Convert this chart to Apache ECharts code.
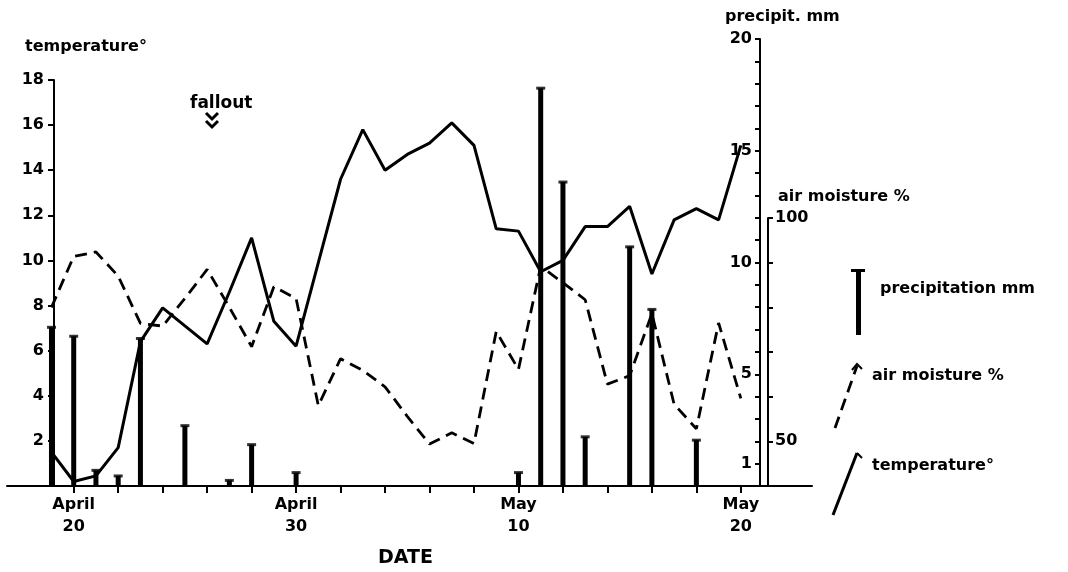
<!DOCTYPE html>
<html>
<head>
<meta charset="utf-8">
<script src="https://cdn.jsdelivr.net/npm/echarts@6/dist/echarts.min.js"></script>
<style>
    html, body { margin: 0; padding: 0; background: #fff; }
    #chart { width: 1068px; height: 572px; }
</style>
</head>
<body>
<div id="chart"></div>
<script>
    // days counted from 1 April (1 May = 31, 20 May = 50)
    var tempDays = [19, 20, 21, 22, 23, 24, 25, 26, 27, 28, 29, 30, 31, 32, 33, 34,
        35, 36, 37, 38, 39, 40, 41, 42, 43, 44, 45, 46, 47, 48, 49, 50];
    // temperature in degrees
    var temperature = [1.5, 0.2, 0.45, 1.7, 6.4, 7.9, 7.1, 6.3, 8.6, 11.0, 7.3, 6.2, 9.9, 13.6, 15.8, 14.0,
        14.7, 15.2, 16.1, 15.1, 11.4, 11.3, 9.5, 10.0, 11.5, 11.5, 12.4, 9.4, 11.8, 12.3, 11.8, 15.1];
    // air moisture in %
    var moisture = [80, 91.4, 92.4, 87, 76.4, 75.8, 82, 88.5, 80, 71.2, 84.6, 82, 58, 68.5, 65.9, 62.2,
        55.6, 49.4, 51.9, 49.5, 74.6, 66.1, 89.2, 85.5, 81.7, 62.8, 64.7, 78.6, 58.3, 52.8, 76.5, 59.6];
    // precipitation in mm
    var precipDays = [19, 20, 21, 22, 23, 25, 27, 28, 30, 40, 41, 42, 43, 45, 46, 48];
    var precipitation = [7.1, 6.7, 0.7, 0.45, 6.6, 2.7, 0.25, 1.85, 0.6, 0.6, 17.8, 13.6, 2.2, 10.7, 7.9, 2.05];

    // tick labels
    var xTickDays = [20, 22, 24, 26, 28, 30, 32, 34, 36, 38, 40, 42, 44, 46, 48, 50];
    var xLabelDays = [20, 30, 40, 50];
    var xLabelText = ['April\n20', 'April\n30', 'May\n10', 'May\n20'];
    var precipLabels = [1, 5, 10, 15, 20];
    var moistureLabels = [50, 100];

    var font = 'DejaVu Sans';
    var black = '#000';

    function dayAxis(gridIndex, visible) {
        return {
            type: 'value',
            gridIndex: gridIndex,
            show: visible,
            min: 17,
            max: 53.2,
            axisLine: { show: true, onZero: false, lineStyle: { color: black, width: 2 } },
            axisTick: { show: true, length: 7, customValues: xTickDays, lineStyle: { color: black, width: 2 } },
            axisLabel: {
                customValues: xLabelDays,
                formatter: function (v) { return xLabelText[xLabelDays.indexOf(v)]; },
                color: black, fontFamily: font, fontWeight: 'bold', fontSize: 16, lineHeight: 22, margin: 8
            },
            splitLine: { show: false }
        };
    }

    function label(text, x, y, size) {
        return {
            type: 'text', left: x, top: y - size * 0.6,
            style: { text: text, fill: black, font: 'bold ' + size + 'px "' + font + '"' }
        };
    }

    var chart = echarts.init(document.getElementById('chart'));
    chart.setOption({
        animation: false,
        backgroundColor: '#fff',
        grid: [
            { left: 7, right: 256, top: 80, bottom: 86 },   // temperature
            { left: 7, right: 256, top: 39, bottom: 86 },   // precipitation
            { left: 7, right: 256, top: 218, bottom: 86 }   // air moisture
        ],
        xAxis: [dayAxis(0, true), dayAxis(1, false), dayAxis(2, false)],
        yAxis: [
            {
                type: 'value', gridIndex: 0, position: 'left', offset: -47,
                min: 0, max: 18, interval: 2,
                axisLine: { show: true, lineStyle: { color: black, width: 2 } },
                axisTick: { show: true, length: 6, lineStyle: { color: black, width: 2 } },
                axisLabel: { showMinLabel: false, color: black, fontFamily: font, fontWeight: 'bold', fontSize: 16, margin: 10 },
                splitLine: { show: false }
            },
            {
                type: 'value', gridIndex: 1, position: 'right', offset: -52,
                min: 0, max: 20, interval: 1,
                axisLine: { show: true, lineStyle: { color: black, width: 2 } },
                axisTick: { show: true, inside: true, length: 5, lineStyle: { color: black, width: 2 } },
                axisLabel: {
                    inside: true, margin: 8,
                    formatter: function (v) { return precipLabels.indexOf(v) >= 0 ? String(v) : ''; },
                    color: black, fontFamily: font, fontWeight: 'bold', fontSize: 16
                },
                splitLine: { show: false }
            },
            {
                type: 'value', gridIndex: 2, position: 'right', offset: -44,
                min: 40, max: 100, interval: 10,
                axisLine: { show: true, lineStyle: { color: black, width: 2 } },
                axisTick: { show: true, length: 5, lineStyle: { color: black, width: 2 } },
                axisLabel: {
                    margin: 7,
                    formatter: function (v) { return moistureLabels.indexOf(v) >= 0 ? String(v) : ''; },
                    color: black, fontFamily: font, fontWeight: 'bold', fontSize: 16
                },
                splitLine: { show: false }
            }
        ],
        series: [
            {
                name: 'precipitation mm',
                type: 'bar', xAxisIndex: 1, yAxisIndex: 1,
                barWidth: 5,
                itemStyle: { color: black },
                data: precipDays.map(function (d, i) { return [d, precipitation[i]]; })
            },
            {
                name: 'precipitation cap',
                type: 'scatter', xAxisIndex: 1, yAxisIndex: 1,
                symbol: 'rect', symbolSize: [9, 3],
                itemStyle: { color: black },
                data: precipDays.map(function (d, i) { return [d, precipitation[i]]; })
            },
            {
                name: 'air moisture %',
                type: 'line', xAxisIndex: 2, yAxisIndex: 2,
                symbol: 'none',
                lineStyle: { color: black, width: 2.8, type: [12, 7] },
                data: tempDays.map(function (d, i) { return [d, moisture[i]]; })
            },
            {
                name: 'temperature°',
                type: 'line', xAxisIndex: 0, yAxisIndex: 0,
                symbol: 'none',
                lineStyle: { color: black, width: 3 },
                data: tempDays.map(function (d, i) { return [d, temperature[i]]; })
            }
        ],
        graphic: [
            label('temperature°', 25, 48, 16),
            label('precipit. mm', 725, 18, 16),
            label('air moisture %', 778, 198, 16),
            label('fallout', 190, 105, 17),
            label('DATE', 378, 560, 19),
            // fallout arrow
            { type: 'polyline', shape: { points: [[206, 113], [212, 119], [218, 113]] }, style: { stroke: black, lineWidth: 3, fill: null } },
            { type: 'polyline', shape: { points: [[206, 121], [212, 127], [218, 121]] }, style: { stroke: black, lineWidth: 3, fill: null } },
            // legend: precipitation
            { type: 'rect', shape: { x: 856, y: 270, width: 5, height: 65 }, style: { fill: black } },
            { type: 'rect', shape: { x: 851, y: 269, width: 14, height: 3 }, style: { fill: black } },
            label('precipitation mm', 880, 290, 16),
            // legend: air moisture
            { type: 'line', shape: { x1: 835, y1: 428, x2: 857, y2: 366 }, style: { stroke: black, lineWidth: 2.8, lineDash: [12, 7] } },
            { type: 'polyline', shape: { points: [[852, 370], [857, 364], [862, 369]] }, style: { stroke: black, lineWidth: 2, fill: null } },
            label('air moisture %', 872, 377, 16),
            // legend: temperature
            { type: 'line', shape: { x1: 833, y1: 515, x2: 857, y2: 453 }, style: { stroke: black, lineWidth: 3 } },
            { type: 'line', shape: { x1: 857, y1: 453, x2: 862, y2: 458 }, style: { stroke: black, lineWidth: 2 } },
            label('temperature°', 872, 467, 16)
        ]
    });
</script>
</body>
</html>
